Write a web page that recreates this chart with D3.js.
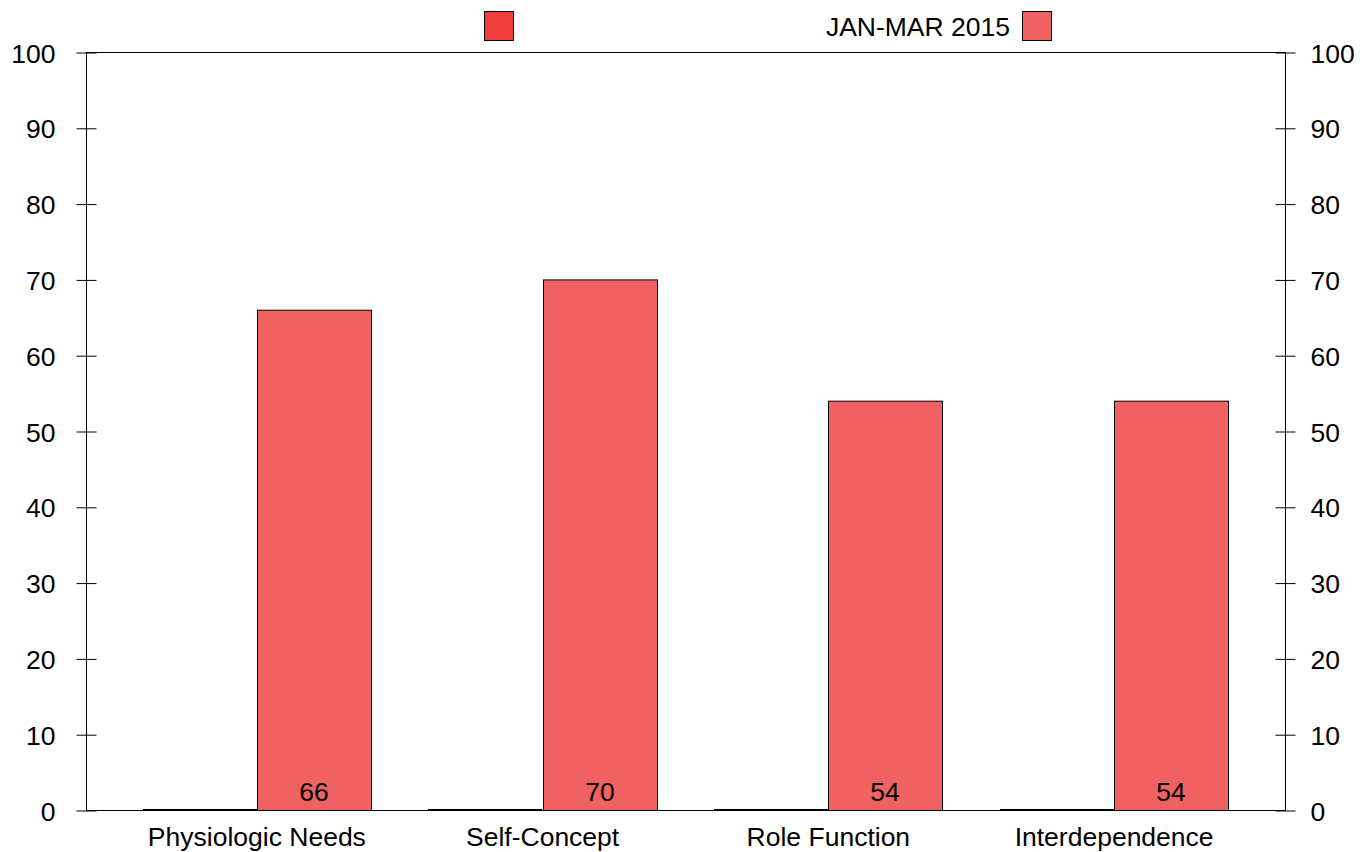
<!DOCTYPE html>
<html><head><meta charset="utf-8">
<script src="https://cdn.jsdelivr.net/npm/d3@7"></script>
<style>body{margin:0;background:#fff}svg{display:block}text{font-family:"Liberation Sans",Arial,sans-serif;fill:#000}</style>
</head><body>
<svg id="c" width="1371" height="852"></svg>
<script>
const categories = ["Physiologic Needs","Self-Concept","Role Function","Interdependence"];
const seriesNames = ["", "JAN-MAR 2015"];
const series1 = [0, 0, 0, 0];
const series2 = [66, 70, 54, 54];
const yTicks = [0,10,20,30,40,50,60,70,80,90,100];
const colors = ["#F23D3D", "#F06262"];

const svg = d3.select("#c");
const L = 86, R = 1285, T = 52, B = 810;
const y = d3.scaleLinear().domain([0,100]).range([B,T]);
const x0 = d3.scaleBand().domain(categories).range([L+28, R-28]).paddingInner(0.2).paddingOuter(0.1);
const x1 = d3.scaleBand().domain([0,1]).range([0, x0.bandwidth()]);
const fs = 26.5;

// frame
svg.append("rect").attr("x",L+0.5).attr("y",T+0.5).attr("width",R-L).attr("height",B-T)
  .attr("fill","none").attr("stroke","#000").attr("stroke-width",1);

// axes
const la = svg.append("g").attr("transform",`translate(${L+0.5},0.5)`)
  .call(d3.axisLeft(y).tickValues(yTicks).tickSize(10).tickPadding(21));
const ra = svg.append("g").attr("transform",`translate(${R+0.5},0.5)`)
  .call(d3.axisRight(y).tickValues(yTicks).tickSize(10).tickPadding(15));
[la, ra].forEach(g => {
  g.select(".domain").remove();
  g.selectAll("text").attr("font-size",fs).attr("fill","#000").attr("dy","0.36em");
  g.selectAll(".tick line").attr("stroke","#000");
});
la.selectAll(".tick line").attr("x1",10).attr("x2",-10);
ra.selectAll(".tick line").attr("x1",-10).attr("x2",10);

// bars
const data = categories.map((c,i)=>({c, v:[series1[i], series2[i]]}));
const g = svg.append("g");
data.forEach(d => {
  d.v.forEach((v,j) => {
    const bx = Math.round(x0(d.c) + x1(j));
    const bw = Math.round(x1.bandwidth());
    if (v > 0) {
      g.append("rect").attr("x", bx+0.5).attr("y", y(v)+0.5)
        .attr("width", bw).attr("height", y(0)-y(v))
        .attr("fill", colors[j]).attr("stroke","#000").attr("stroke-width",1);
      g.append("text").attr("x", bx + bw/2).attr("y", B-9)
        .attr("text-anchor","middle").attr("font-size",fs).text(v);
    } else {
      g.append("line").attr("x1", bx).attr("x2", bx+bw).attr("y1", y(v)).attr("y2", y(v))
        .attr("stroke","#000").attr("stroke-width",2);
    }
  });
  svg.append("text").attr("x", x0(d.c)+x0.bandwidth()/2).attr("y", 846)
    .attr("text-anchor","middle").attr("font-size",fs).text(d.c);
});

// legend
const legendItems = [{x:484, name:seriesNames[0], color:colors[0]},{x:1022, name:seriesNames[1], color:colors[1]}];
legendItems.forEach(it => {
  svg.append("rect").attr("x",it.x+0.5).attr("y",11.5).attr("width",29).attr("height",29)
    .attr("fill",it.color).attr("stroke","#000");
  svg.append("text").attr("x",it.x-12).attr("y",26).attr("dy","0.36em")
    .attr("text-anchor","end").attr("font-size",fs).text(it.name);
});
</script>
</body></html>
